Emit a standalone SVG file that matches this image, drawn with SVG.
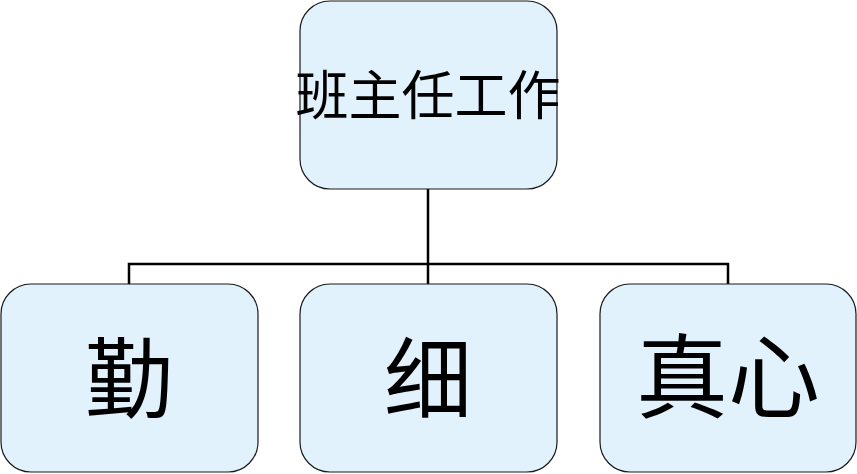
<svg xmlns="http://www.w3.org/2000/svg" width="857" height="474" viewBox="0 0 857 474">
<style>
.box{fill:#E1F2FD;stroke:#1a1a1a;stroke-width:1.2}
.t{font-family:"Liberation Serif","Noto Sans CJK SC",serif;text-anchor:middle;fill:#000}
.c{stroke:#000;stroke-width:2.5;fill:none}
</style>
<rect width="857" height="474" fill="#fff"/>
<g id="connectors">
<path class="c" d="M428 189V264M129 284V264H728V284M428 264V284"/>
</g>
<g id="root"><rect class="box" x="300" y="1" width="257" height="188" rx="30"/><text class="t" x="428" y="115" font-size="53">班主任工作</text></g>
<g id="n1"><rect class="box" x="1" y="284" width="257" height="188" rx="30"/><text class="t" x="129" y="411" font-size="88">勤</text></g>
<g id="n2"><rect class="box" x="300" y="284" width="257" height="188" rx="30"/><text class="t" x="428" y="411" font-size="88">细</text></g>
<g id="n3"><rect class="box" x="600" y="284" width="256" height="188" rx="30"/><text class="t" x="728" y="411" font-size="92">真心</text></g>
</svg>
